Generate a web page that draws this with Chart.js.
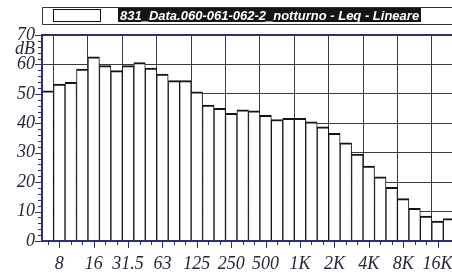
<!DOCTYPE html>
<html lang="it">
<head>
<meta charset="UTF-8">
<title>831_Data.060-061-062-2_notturno - Leq - Lineare</title>
<script src="https://cdn.jsdelivr.net/npm/chart.js"></script>
<style>
  body { margin: 0; background: #fff; overflow: hidden; }
  .wrap { position: relative; width: 452px; height: 273px; }
  .legend { position: absolute; left: 42px; top: 7px; width: 420px; height: 16px; border: 1px solid #333; border-right: none; }
  .legend .box { position: absolute; left: 10px; top: 1px; width: 46px; height: 11px; border: 1px solid #111; }
  .legend .txt { position: absolute; left: 75px; top: 0px; height: 14px; line-height: 13px; padding: 0 2px;
                 background: #151515; color: #fff; font: italic bold 13px "Liberation Sans", Arial, sans-serif; white-space: nowrap; }
</style>
</head>
<body>
<div class="wrap">
  <canvas id="chart" width="452" height="273"></canvas>
  <div class="legend"><div class="box"></div><div class="txt">831_Data.060-061-062-2_notturno - Leq - Lineare</div></div>
</div>
<script>
// bande di terzo d'ottava (Hz)
const bands = ['6.3', '8', '10', '12.5', '16', '20', '25', '31.5', '40', '50', '63', '80',
  '100', '125', '160', '200', '250', '315', '400', '500', '630', '800', '1K', '1.25K',
  '1.6K', '2K', '2.5K', '3.15K', '4K', '5K', '6.3K', '8K', '10K', '12.5K', '16K', '20K'];
// Leq lineare, dB
const leq = [51.0, 53.3, 53.9, 58.4, 62.6, 59.6, 57.9, 59.6, 60.6, 58.8, 56.7, 54.5,
  54.5, 50.7, 46.2, 45.1, 43.4, 44.6, 44.2, 42.7, 41.3, 41.7, 41.7, 40.5,
  38.8, 36.6, 33.4, 29.5, 25.5, 21.8, 18.2, 14.4, 11.1, 8.5, 6.8, 7.6];
// etichette dell'asse x (una ogni ottava)
const xLabels = ['8', '16', '31.5', '63', '125', '250', '500', '1K', '2K', '4K', '8K', '16K'];
const yLabels = [0, 10, 20, 30, 40, 50, 60, 70];

const NAVY = '#2b3170';
const GRID = '#3c3c3c';
const NONE = 'rgba(0,0,0,0)';
const labelFont = { family: '"Liberation Serif", "Times New Roman", serif', style: 'italic', size: 18, lineHeight: 1 };

const isOctave = v => Number.isInteger(v) && v % 3 === 1;

// tacche degli assi e cornice, disegnate sopra le barre
const axisDecor = {
  id: 'axisDecor',
  afterDatasetsDraw(chart) {
    const { ctx, chartArea: a, scales: { x, y } } = chart;
    const line = (x1, y1, x2, y2) => { ctx.beginPath(); ctx.moveTo(x1, y1); ctx.lineTo(x2, y2); ctx.stroke(); };
    ctx.save();
    ctx.strokeStyle = NAVY;
    ctx.lineWidth = 1;
    y.ticks.forEach(t => {
      if (t.value === 65) return;
      const py = Math.round(y.getPixelForValue(t.value)) + 0.5;
      const len = t.value % 10 === 0 ? 7 : 4;
      line(a.left - len, py, a.left, py);
    });
    x.ticks.forEach(t => {
      if (!Number.isInteger(t.value)) return;
      const px = Math.round(x.getPixelForValue(t.value)) + 0.5;
      const len = isOctave(t.value) ? 7 : 4;
      line(px, a.bottom, px, a.bottom + len);
    });
    ctx.lineWidth = 2;
    line(a.left, a.top, a.right, a.top);
    line(a.left, a.top - 1, a.left, a.bottom + 1);
    line(a.left - 1, a.bottom, a.right, a.bottom);
    ctx.restore();
  }
};

new Chart(document.getElementById('chart'), {
  type: 'bar',
  data: {
    datasets: [{
      label: '831_Data.060-061-062-2_notturno - Leq - Lineare',
      data: leq.map((v, i) => ({ x: i, y: v })),
      backgroundColor: '#ffffff',
      borderColor: '#141414',
      borderWidth: { top: 2, left: 1, right: 1, bottom: 0 },
      categoryPercentage: 1,
      barPercentage: 1,
      clip: 0
    }]
  },
  options: {
    responsive: false,
    animation: false,
    events: [],
    layout: { padding: { top: 35, right: 0, left: 0, bottom: 0 } },
    plugins: { legend: { display: false }, tooltip: { enabled: false } },
    scales: {
      x: {
        type: 'linear',
        min: 0,
        max: 34.75,
        border: { display: false },
        grid: {
          drawTicks: false,
          color: c => (c.tick && isOctave(c.tick.value)) ? GRID : NONE,
          lineWidth: 1
        },
        ticks: {
          stepSize: 1,
          includeBounds: false,
          autoSkip: false,
          maxRotation: 0,
          padding: 14,
          color: '#262636',
          font: labelFont,
          callback: v => isOctave(v) ? xLabels[(v - 1) / 3] : ''
        },
        afterFit: s => { s.height = 32; s.paddingLeft = 0; s.paddingRight = 0; }
      },
      y: {
        min: 0,
        max: 70,
        border: { display: false },
        grid: {
          drawTicks: false,
          color: c => (c.tick && c.tick.value % 10 === 0 && c.tick.value > 0 && c.tick.value < 70) ? GRID : NONE,
          lineWidth: 1
        },
        afterBuildTicks: s => { s.ticks.push({ value: 65 }); s.ticks.sort((p, q) => p.value - q.value); },
        ticks: {
          stepSize: 2,
          autoSkip: false,
          padding: 7,
          color: '#262636',
          font: labelFont,
          callback: v => v === 65 ? 'dB' : (yLabels.includes(v) ? String(v) : '')
        },
        afterFit: s => { s.width = 42; }
      }
    }
  },
  plugins: [axisDecor]
});
</script>
</body>
</html>
